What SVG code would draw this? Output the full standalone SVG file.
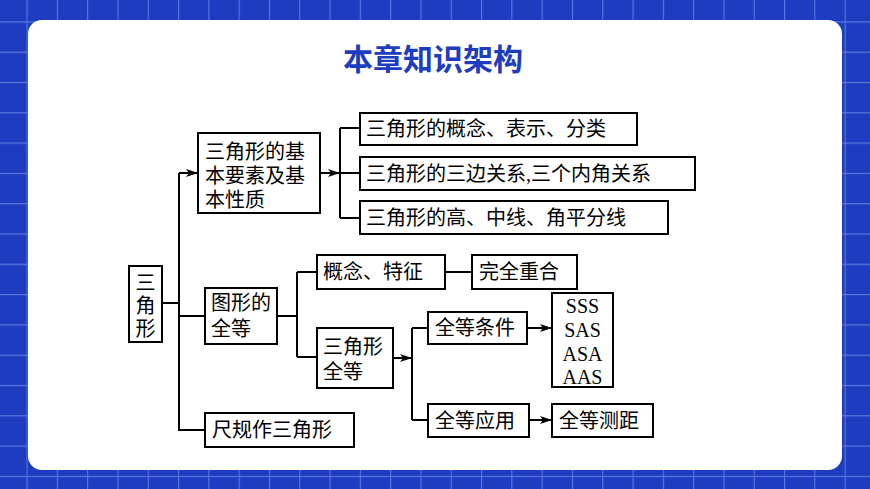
<svg xmlns="http://www.w3.org/2000/svg" width="870" height="489" viewBox="0 0 870 489">
<defs>
<pattern id="grid" x="-3.8" y="-9" width="30.3" height="30.3" patternUnits="userSpaceOnUse">
<rect width="30.3" height="30.3" fill="#1e3cc0"/>
<path d="M0.5 0V30.3M0 0.5H30.3" stroke="#5a78e0" stroke-width="1.2"/>
</pattern>
<marker id="ar" viewBox="0 0 12 8" refX="12" refY="4" markerWidth="12" markerHeight="8" markerUnits="userSpaceOnUse" orient="auto">
<path d="M0 0L12 4L0 8L3 4Z" fill="#000"/>
</marker>
<style>
.b{fill:#fff;stroke:#000;stroke-width:2}
.t{font-family:"Liberation Serif","Noto Sans CJK SC",serif;font-size:20px;fill:#000}
.c{fill:none;stroke:#000;stroke-width:2}
</style>
</defs>
<rect width="870" height="489" fill="url(#grid)"/>
<rect x="28" y="20" width="814" height="450" rx="14" fill="#fff"/>
<text x="433" y="70" text-anchor="middle" font-family="'Noto Sans CJK SC',sans-serif" font-weight="bold" font-size="30" fill="#1e3cc0">本章知识架构</text>
<g id="connectors" class="c">
<path d="M162 303H179M179 173V430H205M179 316H205"/>
<path d="M179 173H198" marker-end="url(#ar)"/>
<path d="M320 173H340" marker-end="url(#ar)"/>
<path d="M340 128V218M340 128H360M340 173H360M340 218H360"/>
<path d="M277 316H297M297 272V357M297 272H317M297 357H317M445 272H472"/>
<path d="M393 358H412" marker-end="url(#ar)"/>
<path d="M412 328V420M412 328H428M412 420H428"/>
<path d="M527 328H552" marker-end="url(#ar)"/>
<path d="M529 420H552" marker-end="url(#ar)"/>
</g>
<g id="n1"><rect class="b" x="129" y="266" width="33" height="76"/><text class="t" x="145.5" y="290" text-anchor="middle">三</text><text class="t" x="145.5" y="313" text-anchor="middle">角</text><text class="t" x="145.5" y="336" text-anchor="middle">形</text></g>
<g id="n2"><rect class="b" x="198" y="133" width="122" height="80"/><text class="t" x="205" y="159">三角形的基</text><text class="t" x="205" y="183">本要素及基</text><text class="t" x="205" y="207">本性质</text></g>
<g id="n3"><rect class="b" x="360" y="113" width="277" height="32"/><text class="t" x="366" y="136">三角形的概念、表示、分类</text></g>
<g id="n4"><rect class="b" x="360" y="157" width="335" height="33"/><text class="t" x="366" y="181">三角形的三边关系,三个内角关系</text></g>
<g id="n5"><rect class="b" x="360" y="201" width="308" height="33"/><text class="t" x="366" y="225">三角形的高、中线、角平分线</text></g>
<g id="n6"><rect class="b" x="205" y="288" width="72" height="56"/><text class="t" x="211" y="310">图形的</text><text class="t" x="211" y="336">全等</text></g>
<g id="n7"><rect class="b" x="317" y="255" width="128" height="34"/><text class="t" x="323" y="279">概念、特征</text></g>
<g id="n8"><rect class="b" x="472" y="255" width="105" height="34"/><text class="t" x="479" y="279">完全重合</text></g>
<g id="n9"><rect class="b" x="317" y="328" width="76" height="60"/><text class="t" x="323" y="354">三角形</text><text class="t" x="323" y="379">全等</text></g>
<g id="n10"><rect class="b" x="428" y="312" width="99" height="32"/><text class="t" x="435" y="335">全等条件</text></g>
<g id="n11"><rect class="b" x="552" y="293" width="61" height="94"/><text class="t" x="582.5" y="313" text-anchor="middle">SSS</text><text class="t" x="582.5" y="337" text-anchor="middle">SAS</text><text class="t" x="582.5" y="361" text-anchor="middle">ASA</text><text class="t" x="582.5" y="384" text-anchor="middle">AAS</text></g>
<g id="n12"><rect class="b" x="428" y="404" width="101" height="33"/><text class="t" x="435" y="428">全等应用</text></g>
<g id="n13"><rect class="b" x="552" y="404" width="101" height="33"/><text class="t" x="559" y="428">全等测距</text></g>
<g id="n14"><rect class="b" x="205" y="413" width="149" height="34"/><text class="t" x="212" y="437">尺规作三角形</text></g>
</svg>
